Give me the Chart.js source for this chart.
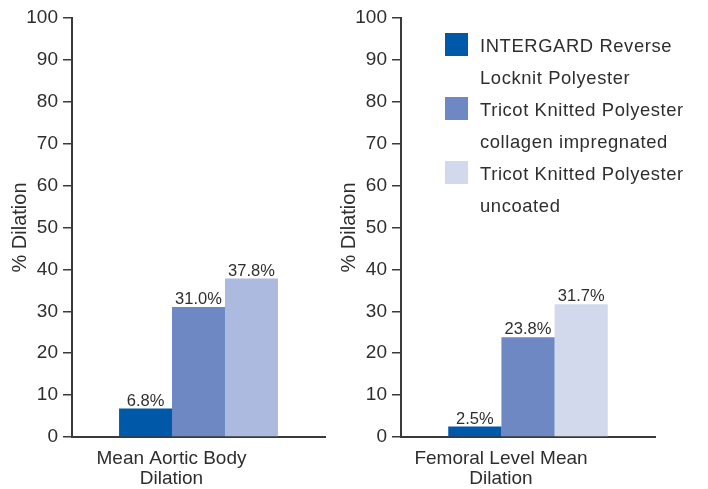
<!DOCTYPE html>
<html lang="en">
<head>
<meta charset="UTF-8">
<title>% Dilation</title>
<script src="https://cdn.jsdelivr.net/npm/chart.js"></script>
<style>
  * { box-sizing: border-box; margin: 0; padding: 0; }
  body { background: #fff; width: 708px; height: 489px; position: relative; overflow: hidden; font-family: 'Liberation Sans', Arial, sans-serif; color: #2e2e2e; }
  canvas { position: absolute; top: 0; }
  #c1 { left: 0; }
  #c2 { left: 329px; }
  .leyenda { position: absolute; left: 445px; top: 30px; }
  .item { position: relative; padding-left: 35px; font-size: 18.4px; letter-spacing: 0.6px; line-height: 32px; white-space: nowrap; }
  .caja { position: absolute; left: 0; top: 3px; width: 23px; height: 23px; }
</style>
</head>
<body>
<canvas id="c1" width="329" height="489"></canvas>
<canvas id="c2" width="379" height="489"></canvas>
<div id="leyenda" class="leyenda"></div>

<script>
// datos
const seriesNames = [
  ['INTERGARD Reverse', 'Locknit Polyester'],
  ['Tricot Knitted Polyester', 'collagen impregnated'],
  ['Tricot Knitted Polyester', 'uncoated']
];
const aorticCategory = [['Mean Aortic Body', 'Dilation']];
const femoralCategory = [['Femoral Level Mean', 'Dilation']];
const aorticValues = [6.8, 31.0, 37.8];
const femoralValues = [2.5, 23.8, 31.7];
const yTicks = [0, 10, 20, 30, 40, 50, 60, 70, 80, 90, 100];

const aorticColors = ['#0058a8', '#6e88c4', '#adbadf'];
const femoralColors = ['#0058a8', '#6e88c4', '#d3d9ed'];
const legendColors = femoralColors;

const TEXTO = '#2e2e2e';
const EJE = '#3a3a3a';
const FUENTE = "'Liberation Sans', Arial, sans-serif";

const etiquetas = {
  id: 'etiquetas',
  afterDatasetsDraw(chart) {
    const ctx = chart.ctx;
    ctx.save();
    ctx.font = '16.5px ' + FUENTE;
    ctx.fillStyle = TEXTO;
    ctx.textAlign = 'center';
    ctx.textBaseline = 'alphabetic';
    chart.data.datasets.forEach((ds, i) => {
      chart.getDatasetMeta(i).data.forEach((bar, j) => {
        ctx.fillText(ds.data[j].toFixed(1) + '%', bar.x, bar.y - 3);
      });
    });
    ctx.restore();
  }
};

function crearGrafica(id, categoria, valores, colores, padRight) {
  return new Chart(document.getElementById(id), {
    type: 'bar',
    data: {
      labels: categoria,
      datasets: valores.map((v, i) => ({
        label: seriesNames[i].join(' '),
        data: [v],
        backgroundColor: colores[i],
        borderWidth: 0,
        categoryPercentage: 0.628,
        barPercentage: 1
      }))
    },
    options: {
      responsive: false,
      animation: false,
      layout: { padding: { top: 18, right: padRight, bottom: 0, left: 0 } },
      plugins: { legend: { display: false }, tooltip: { enabled: false } },
      scales: {
        x: {
          grid: { display: false, drawTicks: false },
          border: { color: EJE, width: 2 },
          ticks: {
            color: TEXTO,
            font: { family: FUENTE, size: 19, lineHeight: 1.05 },
            padding: 12,
            labelOffset: -27,
            maxRotation: 0
          },
          afterFit(scale) { scale.height = 52; }
        },
        y: {
          min: 0,
          max: 100,
          afterBuildTicks(scale) { scale.ticks = yTicks.map(v => ({ value: v })); },
          grid: { drawOnChartArea: false, drawTicks: true, tickLength: 9, color: EJE, lineWidth: 1.5 },
          border: { color: EJE, width: 2 },
          ticks: { color: TEXTO, font: { family: FUENTE, size: 19 }, padding: 5 },
          title: {
            display: true,
            text: '% Dilation',
            color: TEXTO,
            font: { family: FUENTE, size: 20 },
            padding: { top: 8, bottom: 0 }
          },
          afterFit(scale) { scale.width = 72; }
        }
      }
    },
    plugins: [etiquetas]
  });
}

crearGrafica('c1', aorticCategory, aorticValues, aorticColors, 4);
crearGrafica('c2', femoralCategory, femoralValues, femoralColors, 53);

// leyenda
const leyenda = document.getElementById('leyenda');
seriesNames.forEach((lineas, i) => {
  const div = document.createElement('div');
  div.className = 'item';
  div.innerHTML = '<span class="caja" style="background:' + legendColors[i] + '"></span>' + lineas.join('<br>');
  leyenda.appendChild(div);
});
</script>
</body>
</html>
